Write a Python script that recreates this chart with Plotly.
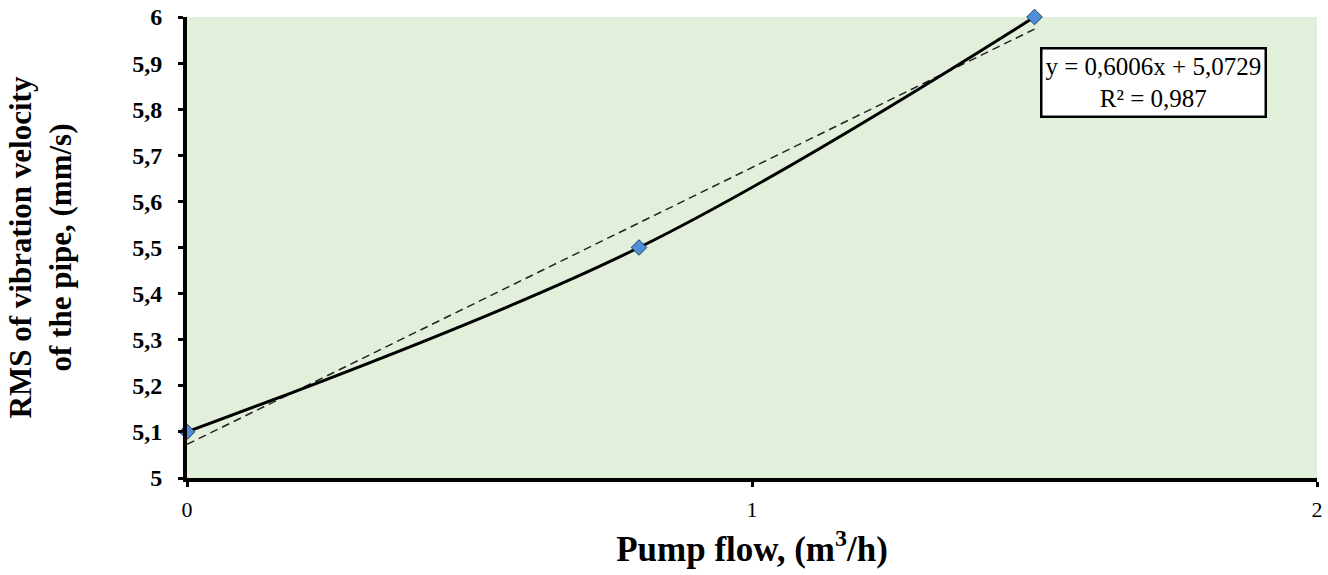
import plotly.graph_objects as go

# Data
flow = [0, 0.8, 1.5]
rms = [5.1, 5.5, 6.0]
trend_slope = 0.6006
trend_intercept = 5.0729
trend_x = [0, 1.5]
x_ticks = [0, 1, 2]
x_ticklabels = ["0", "1", "2"]
y_ticks = [5.0, 5.1, 5.2, 5.3, 5.4, 5.5, 5.6, 5.7, 5.8, 5.9, 6.0]
y_ticklabels = ["5", "5,1", "5,2", "5,3", "5,4", "5,5", "5,6", "5,7", "5,8", "5,9", "6"]

trend_y = [trend_slope * x + trend_intercept for x in trend_x]

FONT = "Liberation Serif, Times New Roman, serif"

fig = go.Figure()
fig.add_trace(go.Scatter(
    x=trend_x, y=trend_y, mode="lines",
    line=dict(color="#222222", width=1.5, dash="8px,5px"),
    cliponaxis=False, showlegend=False, hoverinfo="skip"))
fig.add_trace(go.Scatter(
    x=flow, y=rms, mode="lines+markers",
    line=dict(color="black", width=3, shape="spline", smoothing=1),
    marker=dict(symbol="diamond", size=12, color="#4F8FD6",
                line=dict(color="#1F3F66", width=1)),
    cliponaxis=False, showlegend=False))

fig.add_annotation(
    x=1.71, y=5.859, xref="x", yref="y",
    text="y = 0,6006x + 5,0729<br>R² = 0,987",
    showarrow=False, align="center",
    font=dict(family=FONT, size=25, color="black"),
    bgcolor="white", bordercolor="black", borderwidth=2.5, borderpad=3)

fig.update_layout(
    width=1328, height=575,
    margin=dict(l=187, r=11, t=17, b=97),
    paper_bgcolor="white", plot_bgcolor="#E2EFDA",
    font=dict(family=FONT, color="black"),
    xaxis=dict(
        range=[0, 2], tickvals=x_ticks, ticktext=x_ticklabels,
        showgrid=False, zeroline=False, automargin=False,
        showline=True, linewidth=4, linecolor="black",
        ticks="outside", ticklen=5, tickwidth=3, tickcolor="black",
        ticklabelstandoff=4,
        tickfont=dict(family=FONT, size=22, color="black"),
        title=dict(text="<b>Pump flow, (m<sup><span style='font-size:24px'>3</span></sup>/h)</b>",
                   font=dict(family=FONT, size=35, color="black"), standoff=16)),
    yaxis=dict(
        range=[5, 6], tickvals=y_ticks, ticktext=y_ticklabels,
        showgrid=False, zeroline=False, automargin=False,
        showline=True, linewidth=4, linecolor="black",
        ticks="outside", ticklen=5, tickwidth=3, tickcolor="black",
        ticklabelstandoff=11,
        tickfont=dict(family=FONT, size=24, color="black", weight="bold"),
        title=dict(text="<b>RMS of vibration velocity<br>of the pipe, (mm/s)</b>",
                   font=dict(family=FONT, size=31, color="black"), standoff=52)),
)

fig.write_html("out.html")
